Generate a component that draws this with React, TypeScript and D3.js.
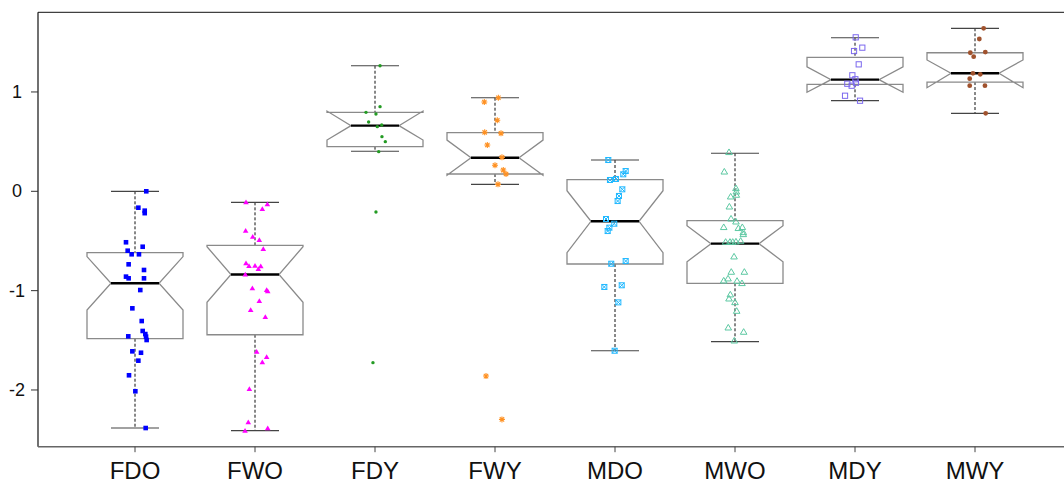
import React from 'react';
import * as d3 from 'd3';

const categories = ['FDO', 'FWO', 'FDY', 'FWY', 'MDO', 'MWO', 'MDY', 'MWY'];
const whiskerLow = [-2.383, -2.41, 0.403, 0.07, -1.605, -1.514, 0.912, 0.785];
const q1 = [-1.484, -1.444, 0.449, 0.174, -0.732, -0.926, 1.077, 1.1];
const median = [-0.926, -0.838, 0.661, 0.338, -0.302, -0.527, 1.124, 1.188];
const q3 = [-0.618, -0.544, 0.795, 0.59, 0.117, -0.296, 1.349, 1.395];
const whiskerHigh = [0.0, -0.111, 1.264, 0.942, 0.315, 0.383, 1.546, 1.641];
const notchLow = [-1.195, -1.118, 0.516, 0.162, -0.618, -0.709, 0.997, 1.043];
const notchHigh = [-0.657, -0.558, 0.808, 0.516, 0.006, -0.346, 1.254, 1.322];
const yTicks = [-2, -1, 0, 1];

// points: [value, horizontal jitter as fraction of category step]
const ptsFDO = [[0.0, 0.094], [-0.165, 0.028], [-0.195, 0.081], [-0.22, 0.081], [-0.513, -0.075], [-0.598, -0.061], [-0.634, -0.028], [-0.558, 0.064], [-0.634, 0.033], [-0.735, -0.053], [-0.792, 0.075], [-0.859, -0.075], [-0.876, -0.053], [-0.876, 0.075], [-0.994, 0.044], [-1.178, -0.022], [-1.306, 0.056], [-1.406, 0.064], [-1.437, 0.086], [-1.46, -0.056], [-1.463, 0.092], [-1.497, 0.097], [-1.611, -0.022], [-1.625, 0.05], [-1.705, 0.028], [-1.852, -0.05], [-2.013, 0.003], [-2.383, 0.089]];
const ptsFWO = [[-0.111, -0.075], [-0.131, 0.103], [-0.178, 0.061], [-0.397, -0.078], [-0.457, -0.019], [-0.49, 0.036], [-0.581, 0.069], [-0.725, -0.075], [-0.752, -0.05], [-0.749, 0], [-0.782, 0.028], [-0.755, 0.048], [-0.838, -0.081], [-0.977, -0.022], [-0.994, 0.097], [-1.007, 0.106], [-1.104, 0.036], [-1.195, -0.036], [-1.265, 0.086], [-1.615, 0.014], [-1.668, 0.097], [-1.721, 0.061], [-1.99, -0.047], [-2.326, -0.056], [-2.41, -0.083], [-2.386, 0.106]];
const ptsFDY = [[1.264, 0.042], [0.852, 0.042], [0.795, -0.075], [0.778, 0.008], [0.698, -0.053], [0.651, 0.019], [0.667, 0.056], [0.55, 0.058], [0.5, 0.086], [0.399, 0.031], [-0.209, 0.008], [-1.725, -0.017]];
const ptsFWY = [[0.942, 0.028], [0.899, -0.089], [0.715, 0.019], [0.594, -0.086], [0.584, 0.05], [0.466, -0.064], [0.342, 0.058], [0.262, 0], [0.214, 0.069], [0.174, 0.092], [0.07, 0.025], [-1.86, -0.075], [-2.296, 0.058]];
const ptsMDO = [[0.315, -0.056], [0.204, 0.089], [0.171, 0.069], [0.124, 0.008], [0.114, -0.042], [0.02, 0.061], [-0.047, 0.033], [-0.098, 0.022], [-0.279, -0.075], [-0.326, -0.006], [-0.366, -0.047], [-0.4, -0.061], [-0.729, -0.031], [-0.702, 0.089], [-0.963, -0.089], [-0.946, 0.056], [-1.118, 0.028], [-1.605, -0.003]];
const ptsMWO = [[0.393, -0.05], [0.197, -0.089], [0.03, 0.008], [-0.004, 0.011], [-0.037, 0.011], [-0.054, -0.036], [-0.155, -0.047], [-0.276, -0.033], [-0.306, 0.008], [-0.362, -0.094], [-0.372, 0.028], [-0.362, 0.061], [-0.433, 0.069], [-0.413, 0.069], [-0.51, -0.078], [-0.51, -0.042], [-0.51, -0.019], [-0.507, 0.008], [-0.5, 0.047], [-0.658, -0.008], [-0.812, -0.031], [-0.812, 0.078], [-0.879, -0.058], [-0.9, -0.094], [-0.903, 0.017], [-0.926, 0.058], [-1.04, -0.039], [-1.081, -0.05], [-1.118, 0], [-1.205, 0.014], [-1.373, -0.056], [-1.416, 0.072], [-1.504, -0.006]];
const ptsMDY = [[1.55, 0.006], [1.446, 0.061], [1.412, -0.008], [1.278, 0.031], [1.168, -0.022], [1.128, 0.003], [1.083, -0.064], [1.093, 0.008], [1.063, -0.028], [0.962, -0.083], [0.912, 0.042]];
const ptsMWY = [[1.641, 0.072], [1.533, 0.036], [1.395, -0.039], [1.402, 0.086], [1.355, -0.011], [1.188, -0.017], [1.178, 0.044], [1.134, -0.044], [1.063, -0.044], [1.063, 0.083], [0.785, 0.089]];

const groupPoints = [ptsFDO, ptsFWO, ptsFDY, ptsFWY, ptsMDO, ptsMWO, ptsMDY, ptsMWY];
const colors = ['#0000FF', '#FF00FF', '#239B23', '#FF9122', '#1FB8FF', '#5CC8A2', '#7B68EE', '#A0522D'];
const shapes = ['square', 'triangle', 'dot', 'asterisk', 'boxx', 'opentri', 'opensquare', 'circle'];

const W = 1064;
const H = 482;
const left = 38;
const top = 12.3;
const bottom = 446.7;

function Marker({ shape, x, y, color }: { shape: string; x: number; y: number; color: string }) {
  switch (shape) {
    case 'square':
      return <rect x={x - 2.3} y={y - 2.3} width={4.6} height={4.6} fill={color} />;
    case 'triangle':
      return <path d={`M${x},${y - 2.8}L${x + 2.8},${y + 2}L${x - 2.8},${y + 2}Z`} fill={color} />;
    case 'dot':
      return <circle cx={x} cy={y} r={1.7} fill={color} />;
    case 'asterisk':
      return (
        <path
          d={`M${x - 3},${y}L${x + 3},${y}M${x},${y - 3}L${x},${y + 3}M${x - 2.2},${y - 2.2}L${x + 2.2},${y + 2.2}M${x - 2.2},${y + 2.2}L${x + 2.2},${y - 2.2}`}
          stroke={color}
          strokeWidth={1.1}
          fill="none"
        />
      );
    case 'boxx':
      return (
        <g stroke={color} strokeWidth={1} fill="none">
          <rect x={x - 2.5} y={y - 2.5} width={5} height={5} />
          <path d={`M${x - 2.5},${y - 2.5}L${x + 2.5},${y + 2.5}M${x - 2.5},${y + 2.5}L${x + 2.5},${y - 2.5}`} />
        </g>
      );
    case 'opentri':
      return <path d={`M${x},${y - 3.3}L${x + 3.3},${y + 2.3}L${x - 3.3},${y + 2.3}Z`} fill="none" stroke={color} strokeWidth={1} />;
    case 'opensquare':
      return <rect x={x - 2.6} y={y - 2.6} width={5.2} height={5.2} fill="none" stroke={color} strokeWidth={1} />;
    case 'circle':
      return <circle cx={x} cy={y} r={2.4} fill={color} />;
    default:
      return null;
  }
}

export default function App() {
  const x = d3.scaleBand<string>().domain(categories).range([75, 1035]).paddingInner(0).paddingOuter(0);
  const y = d3.scaleLinear().domain([-2.571, 1.802]).range([bottom, top]);
  const step = x.bandwidth();
  const hw = step * 0.4;
  const nw = step * 0.2;
  const cw = step * 0.2;

  const line = d3.line<[number, number]>().x((d) => d[0]).y((d) => d[1]);

  return (
    <svg width={W} height={H} style={{ position: 'absolute', left: 0, top: 0, background: '#fff' }} fontFamily="'Liberation Sans', Arial, sans-serif">
      {/* frame */}
      <line x1={left} x2={W} y1={top} y2={top} stroke="#111" strokeWidth={1} />
      <line x1={left} x2={left} y1={top} y2={bottom} stroke="#111" strokeWidth={1.2} />
      <line x1={left} x2={W} y1={bottom} y2={bottom} stroke="#666" strokeWidth={1.4} />

      {/* y axis */}
      {yTicks.map((t) => (
        <g key={t}>
          <line x1={31} x2={left} y1={y(t)} y2={y(t)} stroke="#333" strokeWidth={1} />
          <text x={17} y={y(t)} textAnchor="middle" dominantBaseline="central" fontSize={18} fill="#111">
            {t}
          </text>
        </g>
      ))}

      {/* x axis */}
      {categories.map((c) => {
        const cx = (x(c) as number) + step / 2;
        return (
          <g key={c}>
            <line x1={cx} x2={cx} y1={bottom} y2={bottom + 5.5} stroke="#444" strokeWidth={1} />
            <text x={cx} y={479} textAnchor="middle" fontSize={24} fill="#111">
              {c}
            </text>
          </g>
        );
      })}

      {/* boxes */}
      {categories.map((c, i) => {
        const cx = (x(c) as number) + step / 2;
        const poly: [number, number][] = [
          [cx - hw, y(q1[i])],
          [cx - hw, y(notchLow[i])],
          [cx - nw, y(median[i])],
          [cx - hw, y(notchHigh[i])],
          [cx - hw, y(q3[i])],
          [cx + hw, y(q3[i])],
          [cx + hw, y(notchHigh[i])],
          [cx + nw, y(median[i])],
          [cx + hw, y(notchLow[i])],
          [cx + hw, y(q1[i])],
        ];
        return (
          <g key={c}>
            <line x1={cx} x2={cx} y1={y(whiskerHigh[i])} y2={y(q3[i])} stroke="#111" strokeWidth={1} strokeDasharray="3,2" />
            <line x1={cx} x2={cx} y1={y(q1[i])} y2={y(whiskerLow[i])} stroke="#111" strokeWidth={1} strokeDasharray="3,2" />
            <line x1={cx - cw} x2={cx + cw} y1={y(whiskerHigh[i])} y2={y(whiskerHigh[i])} stroke="#444" strokeWidth={1.2} />
            <line x1={cx - cw} x2={cx + cw} y1={y(whiskerLow[i])} y2={y(whiskerLow[i])} stroke="#444" strokeWidth={1.2} />
            <path d={(line(poly) as string) + 'Z'} fill="none" stroke="#8a8a8a" strokeWidth={1.3} />
            <line x1={cx - nw} x2={cx + nw} y1={y(median[i])} y2={y(median[i])} stroke="#000" strokeWidth={2.4} />
          </g>
        );
      })}

      {/* points */}
      {categories.map((c, i) => {
        const cx = (x(c) as number) + step / 2;
        return (
          <g key={'p' + c}>
            {groupPoints[i].map((p, k) => (
              <Marker key={k} shape={shapes[i]} x={cx + p[1] * step} y={y(p[0])} color={colors[i]} />
            ))}
          </g>
        );
      })}
    </svg>
  );
}
